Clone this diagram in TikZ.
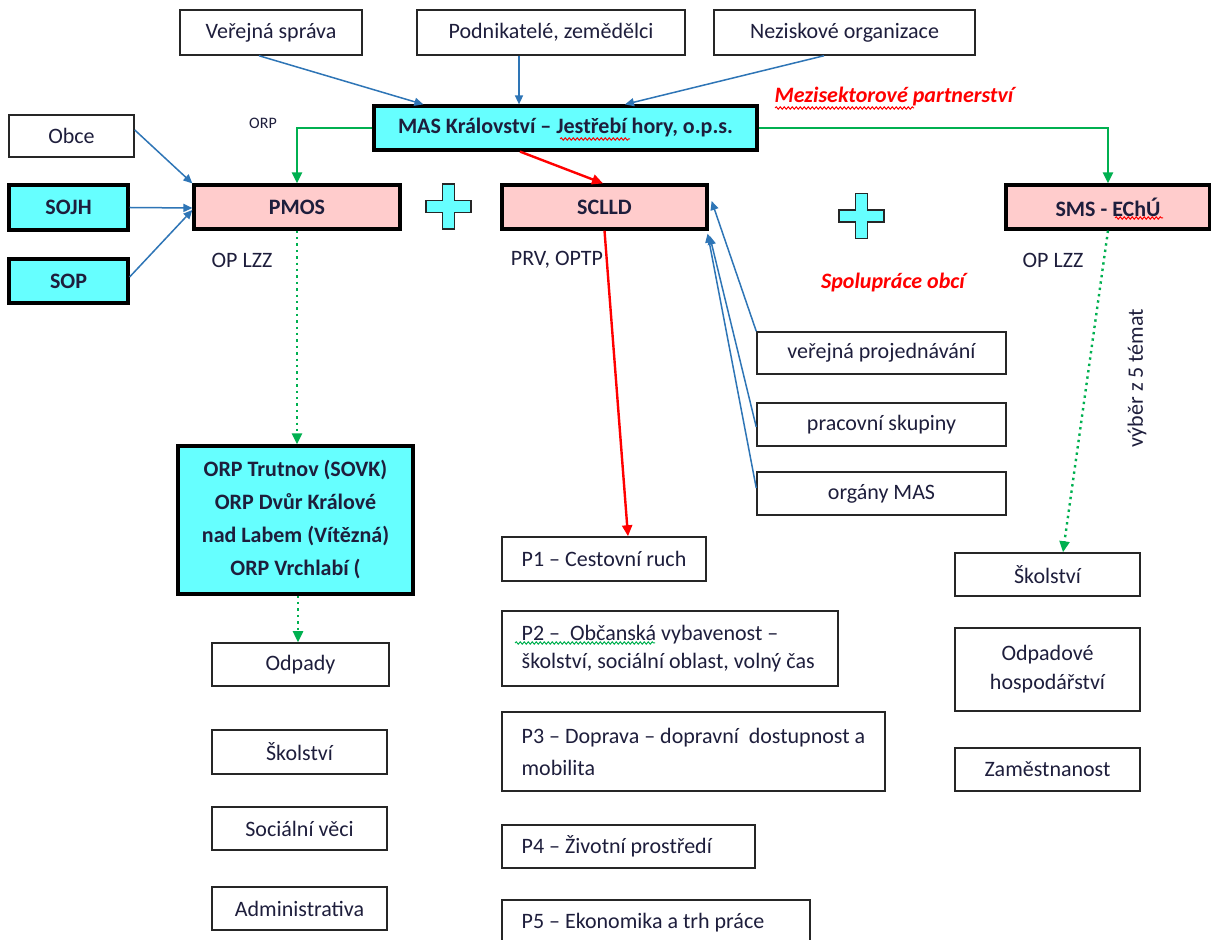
\documentclass[tikz,border=0pt]{standalone}
\usepackage{fontspec}
\setmainfont{Carlito}
\usetikzlibrary{calc,arrows.meta,decorations.pathmorphing}
\definecolor{cyanf}{HTML}{66FFFF}
\definecolor{pinkf}{HTML}{FFCCCC}
\definecolor{bluel}{HTML}{2E75B6}
\definecolor{greenl}{HTML}{00B050}
\definecolor{redl}{HTML}{FF0000}
\definecolor{txt}{HTML}{1E1E3C}
\begin{document}
\begin{tikzpicture}[x=0.5pt,y=-0.5pt,
 every node/.style={font=\fontsize{11}{14.5}\selectfont, text=txt, inner sep=0pt},
 sz/.style 2 args={minimum width=#1*0.5pt, minimum height=#2*0.5pt},
 box/.style={draw=black!85, line width=0.75pt, fill=white},
 tbox/.style={draw=black, line width=1.6pt},
 cbox/.style={tbox, fill=cyanf, font=\fontsize{11}{16.5}\selectfont\bfseries, align=center},
 pkbox/.style={tbox, fill=pinkf, font=\fontsize{11}{14.5}\selectfont\bfseries},
 ptext/.style={anchor=west, align=left},
 redlab/.style={font=\fontsize{11}{13}\selectfont\bfseries\itshape, text=redl},
 barrow/.style={draw=bluel, line width=0.75pt, -{Triangle[length=4.5pt,width=4pt]}},
 garrow/.style={draw=greenl, line width=1.2pt, -{Triangle[length=5.5pt,width=5pt]}},
 gdot/.style={garrow, dotted},
 rarrow/.style={draw=redl, line width=1.2pt, -{Triangle[length=5.5pt,width=5pt]}},
 squig/.style={line width=0.5pt, decorate, decoration={snake, amplitude=0.6pt, segment length=2pt}},
 plussign/.pic={\draw[fill=cyanf, line width=0.9pt, draw=black!85]
   (-6,-22.5) -- (6,-22.5) -- (6,-6) -- (22.5,-6) -- (22.5,6) -- (6,6) -- (6,22.5)
   -- (-6,22.5) -- (-6,6) -- (-22.5,6) -- (-22.5,-6) -- (-6,-6) -- cycle;}
]
\useasboundingbox (0,0) rectangle (1211,940);
\clip (0,0) rectangle (1211,940);
\fill[white] (0,0) rectangle (1211,940);

% top row
\node[box, sz={182}{45}] (vs) at (271,32.5) {Veřejná správa};
\node[box, sz={268}{45}] (pz) at (551,32.5) {Podnikatelé, zemědělci};
\node[box, sz={261}{45}] (no) at (844.5,32.5) {Neziskové organizace};

\node[cbox, sz={383}{44}] (mas) at (565.5,128) {MAS Království – Jestřebí hory, o.p.s.};
\node[font=\fontsize{8}{9}\selectfont] (orpl) at (263,123) {ORP};
\node[redlab] (mez) at (894,97) {Mezisektorové partnerství};

% left column
\node[box, sz={125}{42}] (obce) at (71.5,136) {Obce};
\node[cbox, sz={119}{45}] (sojh) at (68.5,207.5) {SOJH};
\node[cbox, sz={119}{44}] (sop) at (68.5,281) {SOP};

% pink row
\node[pkbox, sz={206}{44}] (pmos) at (297,207) {PMOS};
\node[pkbox, sz={205}{44}] (sclld) at (604.5,207) {SCLLD};
\node[pkbox, sz={204}{44}] (sms) at (1108,207) {SMS - EChÚ};
\pic at (448.5,206.5) {plussign};
\pic at (861.5,216) {plussign};

\node (opl1) at (242,260) {OP LZZ};
\node (prv) at (557,260) {PRV, OPTP};
\node (opl2) at (1053,260) {OP LZZ};
\node[redlab] (spol) at (893,283) {Spolupráce obcí};

% right inputs
\node[box, sz={249}{42}] (vp) at (881.5,353) {veřejná projednávání};
\node[box, sz={249}{43}] (ps) at (881.5,424.5) {pracovní skupiny};
\node[box, sz={249}{43}] (om) at (881.5,493.5) {orgány MAS};
\node[rotate=90] (vyb) at (1137,378) {výběr z 5 témat};

% ORP box
\node[cbox, sz={235}{148}] (orp) at (295.5,520) {ORP Trutnov (SOVK)\\ORP Dvůr Králové\\nad Labem (Vítězná)\\ORP Vrchlabí (};

% left list
\node[box, sz={177}{43}] (odp) at (300.5,664.5) {Odpady};
\node[box, sz={175}{44}] (sk1) at (299.5,752) {Školství};
\node[box, sz={175}{43}] (soc) at (299.5,828.5) {Sociální věci};
\node[box, sz={175}{43}] (adm) at (299.5,908.5) {Administrativa};

% P list
\node[box, sz={204}{44}] (p1) at (604,559) {};
\node[ptext] (p1t) at ([xshift=10pt]p1.west) {P1 – Cestovní ruch};
\node[box, sz={336}{75}] (p2) at (670,648.5) {};
\node[ptext, font=\fontsize{11}{14}\selectfont] (p2t) at ([xshift=10pt]p2.west) {P2 –\ \ Občanská vybavenost –\\školství, sociální oblast, volný čas};
\node[box, sz={383}{79}] (p3) at (693.5,751.5) {};
\node[ptext, font=\fontsize{11}{16}\selectfont] (p3t) at ([xshift=10pt]p3.west) {P3 – Doprava – dopravní\ \ dostupnost a\\mobilita};
\node[box, sz={253}{43}] (p4) at (628.5,846.5) {};
\node[ptext] (p4t) at ([xshift=10pt]p4.west) {P4 – Životní prostředí};
\node[box, sz={308}{60}] (p5) at (656,930) {};
\node[ptext] (p5t) at ([xshift=10pt,yshift=3.5pt]p5.west) {P5 – Ekonomika a trh práce};

% right list
\node[box, sz={185}{43}] (sk2) at (1047.5,574.5) {Školství};
\node[box, sz={185}{83}, align=center] (oh) at (1047.5,669.5) {Odpadové\\hospodářství};
\node[box, sz={185}{43}] (zam) at (1047.5,769.5) {Zaměstnanost};

% spell-check squiggles
\draw[squig, draw=redl] (560,139) -- (630,139);
\draw[squig, draw=redl] (775,108) -- (914,108);
\draw[squig, draw=redl] (1115,218) -- (1163,218);
\draw[squig, draw=greenl] (515,643) -- (655,643);

% connectors: blue
\draw[barrow] ($(vs.south)+(-12,0)$) -- ($(mas.north west)+(51,0)$);
\draw[barrow] ($(pz.south)+(-32,0)$) -- ($(mas.north)+(-46.5,0)$);
\draw[barrow] ($(no.south)+(-20.5,0)$) -- ($(mas.north)+(59.5,0)$);
\draw[barrow] ($(obce.east)+(0,-6)$) -- (pmos.north west);
\draw[barrow] (sojh.east) -- ($(pmos.west)+(0,1)$);
\draw[barrow] ($(sop.east)+(0,-4)$) -- ($(pmos.west)+(0,3)$);
\draw[barrow] (vp.north west) -- ($(sclld.east)+(3,-6)$);
\draw[barrow] ($(ps.west)+(0,2.5)$) -- ($(sclld.south east)+(1,5)$);
\draw[barrow] ($(om.west)+(0,-5.5)$) -- ($(sclld.south east)+(-1,3)$);

% green
\draw[garrow] (mas.west) -| (pmos.north);
\draw[garrow] (mas.east) -| (sms.north);
\draw[gdot] (pmos.south) -- (pmos.south |- orp.north);
\draw[gdot] ($(orp.south)+(2.5,0)$) -- ($(odp.north)+(-2.5,0)$);
\draw[gdot] (sms.south) -- ($(sk2.north)+(15.5,0)$);

% red
\draw[rarrow] ($(mas.south)+(-45.5,0)$) -- ($(sclld.north)+(-1.5,0)$);
\draw[rarrow] (sclld.south) -- ($(p1.north)+(24,0)$);
\end{tikzpicture}
\end{document}
